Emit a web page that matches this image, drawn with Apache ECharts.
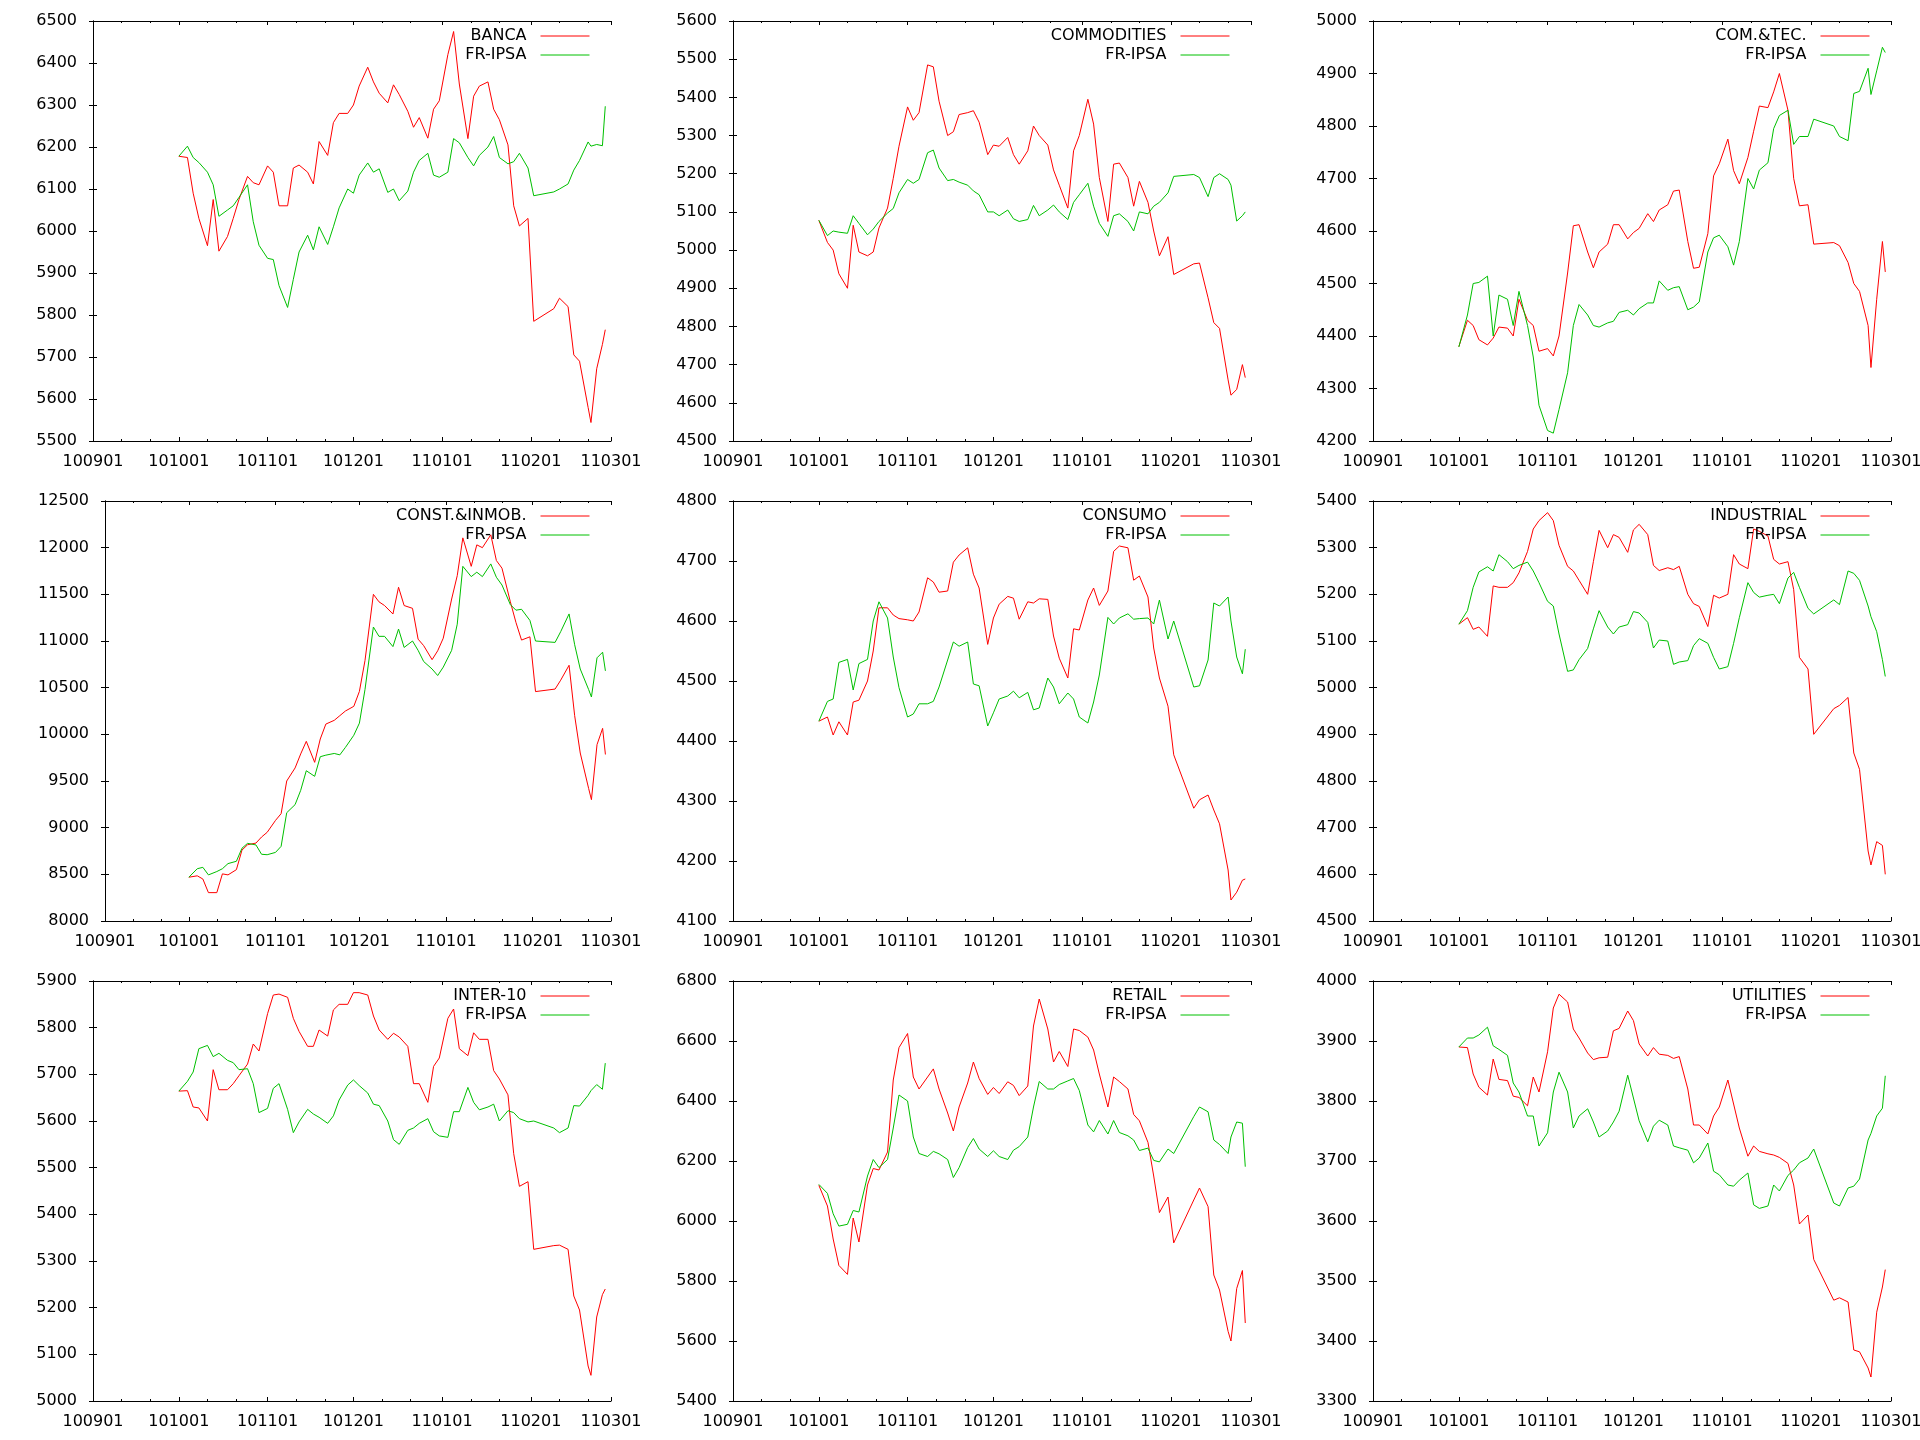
<!DOCTYPE html>
<html><head><meta charset="utf-8">
<script src="https://cdn.jsdelivr.net/npm/echarts@6/dist/echarts.min.js"></script>
<style>html,body{margin:0;padding:0;background:#fff}#c{width:1920px;height:1440px}</style>
</head><body><div id="c"></div>
<script>
// ---------- data ----------
const dates = ["101001","101004","101006","101008","101011","101013","101015","101018","101020","101022",
 "101025","101027","101029","101101","101103","101105","101108","101110","101112","101115",
 "101117","101119","101122","101124","101126","101129","101201","101203","101206","101208",
 "101210","101213","101215","101217","101220","101222","101224","101227","101229","101231",
 "110103","110105","110107","110110","110112","110114","110117","110119","110121","110124",
 "110126","110128","110131","110202","110209","110211","110214","110216","110218","110221",
 "110222","110224","110226","110227"];
const xTickLabels = ["100901","101001","101101","101201","110101","110201","110301"];
const xMinorTicks = ["100911","100921","101011","101021","101111","101121","101211","101221","110111","110121","110211","110221"];
const refName = "FR-IPSA";
const panelNames = ["BANCA","COMMODITIES","COM.&TEC.","CONST.&INMOB.","CONSUMO","INDUSTRIAL","INTER-10","RETAIL","UTILITIES"];
const yMin  = [5500,4500,4200,8000,4100,4500,5000,5400,3300];
const yMax  = [6500,5600,5000,12500,4800,5400,5900,6800,4000];
const yStep = [100,100,100,500,100,100,100,200,100];

const banca = [6178,6175,6090,6030,5965,6075,5952,5987,6030,6075,
 6130,6115,6110,6155,6140,6060,6060,6150,6157,6140,
 6112,6213,6180,6258,6280,6280,6300,6345,6390,6355,
 6328,6305,6348,6325,6285,6247,6270,6221,6290,6310,
 6420,6475,6350,6220,6321,6345,6355,6290,6265,6205,
 6060,6012,6030,5785,5815,5840,5820,5705,5690,5580,
 5544,5672,5730,5765];
const bancaIpsa = [6178,6202,6175,6163,6140,6110,6035,6050,6060,6080,
 6110,6022,5966,5935,5932,5870,5818,5885,5950,5990,
 5955,6010,5968,6010,6055,6100,6090,6133,6162,6140,
 6148,6092,6100,6072,6095,6140,6168,6185,6133,6128,
 6140,6220,6210,6175,6155,6180,6200,6225,6175,6160,
 6165,6185,6150,6084,6093,6100,6112,6145,6168,6212,
 6202,6206,6203,6297];
const commodities = [5078,5020,5000,4938,4900,5065,4995,4985,4995,5058,
 5110,5188,5272,5375,5340,5360,5485,5480,5390,5300,
 5310,5355,5360,5365,5335,5250,5275,5272,5295,5250,
 5225,5260,5325,5300,5275,5210,5170,5110,5260,5300,
 5395,5330,5190,5075,5225,5228,5190,5115,5180,5125,
 5050,4985,5035,4936,4964,4966,4875,4810,4795,4660,
 4620,4635,4700,4666];
const commoditiesIpsa = [5078,5038,5050,5047,5044,5090,5070,5040,5055,5075,
 5097,5109,5150,5185,5175,5185,5255,5262,5215,5182,
 5185,5178,5170,5155,5145,5100,5100,5090,5105,5082,
 5075,5080,5117,5090,5105,5118,5100,5080,5125,5145,
 5175,5115,5070,5036,5090,5095,5075,5050,5100,5095,
 5115,5125,5150,5193,5198,5190,5140,5190,5200,5185,
 5170,5076,5090,5100];
const comTec = [4380,4430,4420,4393,4383,4396,4417,4415,4400,4470,
 4430,4420,4371,4376,4362,4400,4520,4610,4612,4560,
 4530,4560,4575,4612,4612,4585,4597,4605,4633,4618,
 4640,4650,4676,4678,4580,4529,4531,4595,4705,4728,
 4775,4715,4690,4740,4790,4838,4835,4865,4900,4830,
 4700,4648,4650,4575,4578,4572,4540,4500,4485,4420,
 4340,4470,4580,4522];
const comTecIpsa = [4379,4440,4500,4502,4514,4400,4478,4470,4420,4485,
 4420,4360,4268,4220,4215,4260,4330,4420,4460,4440,
 4420,4417,4425,4428,4445,4449,4440,4452,4463,4463,
 4505,4487,4492,4494,4450,4455,4465,4560,4587,4592,
 4570,4535,4580,4700,4680,4716,4730,4795,4820,4830,
 4765,4780,4780,4813,4800,4780,4772,4862,4866,4910,
 4860,4905,4950,4940];
const constInmob = [8469,8484,8450,8304,8304,8505,8494,8550,8760,8817,
 8835,8900,8950,9078,9150,9500,9640,9790,9925,9700,
 9950,10110,10150,10200,10250,10300,10460,10790,11500,11420,
 11380,11289,11576,11380,11350,11020,10950,10800,10895,11030,
 11450,11700,12105,11800,12030,12000,12138,11862,11780,11420,
 11199,11010,11045,10458,10485,10580,10740,10200,9800,9420,
 9300,9890,10064,9784];
const constInmobIpsa = [8469,8560,8575,8494,8530,8560,8615,8640,8780,8832,
 8815,8715,8710,8735,8800,9160,9247,9400,9610,9550,
 9760,9777,9795,9780,9860,9990,10120,10480,11150,11050,
 11050,10940,11128,10931,11000,10900,10780,10700,10630,10720,
 10900,11180,11800,11690,11737,11690,11826,11683,11600,11390,
 11330,11340,11220,11000,10985,11100,11290,10960,10700,10480,
 10400,10820,10880,10680];
const consumo = [4433,4440,4410,4432,4410,4465,4468,4500,4550,4622,
 4622,4610,4604,4602,4600,4615,4672,4665,4648,4650,
 4698,4710,4722,4678,4655,4561,4605,4628,4641,4638,
 4603,4632,4630,4637,4636,4575,4538,4505,4587,4585,
 4635,4655,4626,4650,4716,4725,4722,4668,4675,4640,
 4555,4505,4458,4377,4288,4302,4310,4285,4262,4185,
 4135,4148,4168,4170];
const consumoIpsa = [4433,4466,4470,4531,4536,4485,4529,4536,4600,4632,
 4605,4540,4489,4440,4445,4462,4462,4466,4490,4535,
 4565,4558,4565,4495,4492,4425,4447,4470,4475,4483,
 4472,4481,4452,4455,4505,4490,4462,4480,4470,4440,
 4430,4465,4510,4606,4595,4605,4612,4603,4604,4605,
 4595,4635,4570,4600,4490,4492,4535,4630,4625,4640,
 4600,4540,4512,4553];
const industrial = [5136,5150,5125,5130,5110,5218,5215,5215,5225,5246,
 5292,5340,5358,5375,5358,5305,5260,5250,5230,5200,
 5270,5337,5300,5328,5322,5290,5338,5350,5328,5262,
 5251,5257,5253,5260,5200,5180,5174,5131,5198,5192,
 5200,5285,5265,5255,5340,5335,5325,5275,5265,5270,
 5210,5065,5040,4900,4955,4962,4979,4860,4825,4650,
 4620,4670,4662,4600];
const industrialIpsa = [5136,5165,5215,5248,5259,5250,5285,5270,5255,5262,
 5269,5250,5225,5185,5175,5115,5035,5038,5060,5084,
 5126,5165,5130,5115,5130,5135,5163,5160,5140,5085,
 5102,5100,5050,5055,5058,5090,5105,5095,5065,5040,
 5045,5095,5150,5225,5204,5194,5198,5200,5180,5235,
 5247,5215,5170,5158,5188,5178,5250,5245,5230,5175,
 5152,5120,5060,5024];
const inter10 = [5664,5665,5630,5628,5600,5710,5667,5667,5680,5697,
 5722,5765,5750,5830,5870,5872,5865,5820,5792,5760,
 5760,5795,5782,5838,5850,5850,5875,5875,5870,5825,
 5795,5775,5788,5780,5760,5680,5680,5640,5717,5735,
 5820,5840,5755,5740,5789,5775,5775,5708,5690,5656,
 5530,5460,5470,5325,5333,5334,5325,5225,5195,5075,
 5055,5180,5228,5240];
const inter10Ipsa = [5664,5685,5705,5755,5762,5738,5745,5730,5725,5710,
 5712,5680,5618,5627,5670,5680,5625,5575,5598,5625,
 5615,5608,5595,5611,5645,5677,5688,5676,5660,5636,
 5633,5600,5560,5550,5580,5585,5595,5605,5577,5568,
 5565,5620,5620,5672,5640,5624,5630,5636,5600,5622,
 5618,5605,5598,5600,5585,5575,5585,5633,5632,5655,
 5665,5678,5668,5724];
const retail = [6119,6050,5940,5852,5822,6010,5930,6120,6175,6170,
 6230,6470,6578,6625,6480,6440,6480,6507,6440,6360,
 6300,6380,6460,6530,6475,6422,6445,6425,6464,6452,
 6418,6450,6650,6740,6640,6530,6565,6515,6640,6635,
 6613,6570,6490,6380,6480,6465,6440,6355,6334,6262,
 6150,6028,6080,5927,6070,6110,6048,5820,5770,5632,
 5600,5775,5835,5660];
const retailIpsa = [6122,6092,6024,5983,5989,6035,6030,6150,6205,6178,
 6205,6310,6420,6400,6280,6225,6215,6232,6224,6205,
 6145,6178,6245,6275,6240,6215,6234,6215,6205,6236,
 6248,6280,6380,6465,6440,6440,6455,6467,6475,6435,
 6320,6297,6335,6290,6335,6295,6284,6270,6235,6243,
 6202,6197,6240,6225,6348,6380,6364,6270,6255,6225,
 6280,6330,6326,6181];
const utilities = [3890,3889,3845,3823,3810,3870,3836,3834,3808,3806,
 3792,3840,3815,3882,3955,3978,3965,3920,3905,3880,
 3869,3872,3873,3917,3921,3950,3934,3895,3875,3889,
 3878,3876,3871,3874,3820,3760,3760,3745,3775,3790,
 3835,3795,3755,3708,3725,3716,3712,3710,3706,3696,
 3660,3595,3610,3536,3468,3472,3465,3385,3382,3355,
 3340,3448,3490,3519];
const utilitiesIpsa = [3890,3905,3905,3910,3923,3892,3886,3876,3830,3815,
 3775,3775,3725,3747,3815,3848,3815,3755,3775,3787,
 3765,3740,3750,3765,3783,3843,3805,3767,3732,3758,
 3768,3760,3725,3722,3718,3697,3705,3730,3683,3677,
 3660,3658,3668,3680,3627,3621,3625,3660,3650,3676,
 3685,3697,3705,3720,3630,3625,3655,3658,3670,3735,
 3746,3775,3788,3842];

const sectorSeries = [banca, commodities, comTec, constInmob, consumo, industrial, inter10, retail, utilities];
const ipsaSeries = [bancaIpsa, commoditiesIpsa, comTecIpsa, constInmobIpsa, consumoIpsa, industrialIpsa, inter10Ipsa, retailIpsa, utilitiesIpsa];

// ---------- helpers ----------
const BASE = Date.UTC(2010, 8, 1);
function dayOf(s) {
  return (Date.UTC(2000 + +s.slice(0, 2), +s.slice(2, 4) - 1, +s.slice(4, 6)) - BASE) / 86400000;
}
const xDays = dates.map(dayOf);
const majorDays = xTickLabels.map(dayOf);
const minorDays = xMinorTicks.map(dayOf);
const labelOfDay = {};
xTickLabels.forEach((l, i) => { labelOfDay[majorDays[i]] = l; });
const X_MIN = majorDays[0], X_MAX = majorDays[majorDays.length - 1];

const FONT = 'DejaVu Sans';
const RED = '#ff0000', GREEN = '#00c000', BLACK = '#000000';

const grids = [], xAxes = [], yAxes = [], series = [], legends = [];
for (let i = 0; i < 9; i++) {
  const col = i % 3, row = Math.floor(i / 3);
  const right = 611 + 640 * col;
  const left = (i === 3 ? 105 : 93) + 640 * col;
  const top = 21 + 480 * row;
  const height = 420;
  grids.push({ left: left, top: top, width: right - left, height: height, containLabel: false, outerBoundsMode: 'none' });

  const baseX = { type: 'value', gridIndex: i, min: X_MIN, max: X_MAX, splitLine: { show: false } };
  xAxes.push(Object.assign({}, baseX, {
    position: 'bottom',
    axisLine: { show: true, lineStyle: { color: BLACK, width: 1 } },
    axisTick: { show: true, inside: true, length: 4, customValues: majorDays, lineStyle: { color: BLACK, width: 1 } },
    axisLabel: { show: true, customValues: majorDays, margin: 13, fontFamily: FONT, fontSize: 16, color: BLACK,
      formatter: v => labelOfDay[Math.round(v)] || '' }
  }));
  xAxes.push(Object.assign({}, baseX, {
    position: 'top',
    axisLine: { show: true, lineStyle: { color: BLACK, width: 1 } },
    axisTick: { show: true, inside: true, length: 4, customValues: majorDays, lineStyle: { color: BLACK, width: 1 } },
    axisLabel: { show: false }
  }));
  ['bottom', 'top'].forEach(pos => {
    xAxes.push(Object.assign({}, baseX, {
      position: pos,
      axisLine: { show: false },
      axisTick: { show: true, inside: true, length: 2, customValues: minorDays, lineStyle: { color: BLACK, width: 1 } },
      axisLabel: { show: false }
    }));
  });

  const baseY = { type: 'value', gridIndex: i, min: yMin[i], max: yMax[i], interval: yStep[i], splitLine: { show: false } };
  yAxes.push(Object.assign({}, baseY, {
    position: 'left',
    axisLine: { show: true, lineStyle: { color: BLACK, width: 1 } },
    axisTick: { show: true, inside: true, length: 4, lineStyle: { color: BLACK, width: 1 } },
    axisLabel: { show: true, margin: 16, fontFamily: FONT, fontSize: 16, color: BLACK, formatter: v => String(v) }
  }));
  yAxes.push(Object.assign({}, baseY, {
    position: 'right',
    axisLine: { show: true, lineStyle: { color: BLACK, width: 1 } },
    axisTick: { show: true, inside: true, length: 4, lineStyle: { color: BLACK, width: 1 } },
    axisLabel: { show: false }
  }));

  series.push({
    type: 'line', name: panelNames[i], xAxisIndex: 4 * i, yAxisIndex: 2 * i,
    symbol: 'none', showSymbol: false, silent: true,
    lineStyle: { color: RED, width: 1 }, itemStyle: { color: RED },
    data: sectorSeries[i].map((v, j) => [xDays[j], v])
  });
  series.push({
    type: 'line', name: refName, xAxisIndex: 4 * i, yAxisIndex: 2 * i,
    symbol: 'none', showSymbol: false, silent: true,
    lineStyle: { color: GREEN, width: 1 }, itemStyle: { color: GREEN },
    data: ipsaSeries[i].map((v, j) => [xDays[j], v])
  });

  legends.push({
    orient: 'vertical', align: 'right', selectedMode: false,
    right: 1920 - right + 21, top: top + 7,
    itemWidth: 49, itemHeight: 14, itemGap: 3, padding: 0,
    itemStyle: { opacity: 0, borderWidth: 0 },
    lineStyle: { width: 1 },
    textStyle: { fontFamily: FONT, fontSize: 16, color: BLACK, padding: [0, 9, 0, 0] },
    data: [panelNames[i], refName]
  });
}

const chart = echarts.init(document.getElementById('c'), null, { renderer: 'canvas', width: 1920, height: 1440 });
chart.setOption({
  animation: false,
  backgroundColor: '#ffffff',
  grid: grids, xAxis: xAxes, yAxis: yAxes, legend: legends, series: series
});
</script></body></html>
